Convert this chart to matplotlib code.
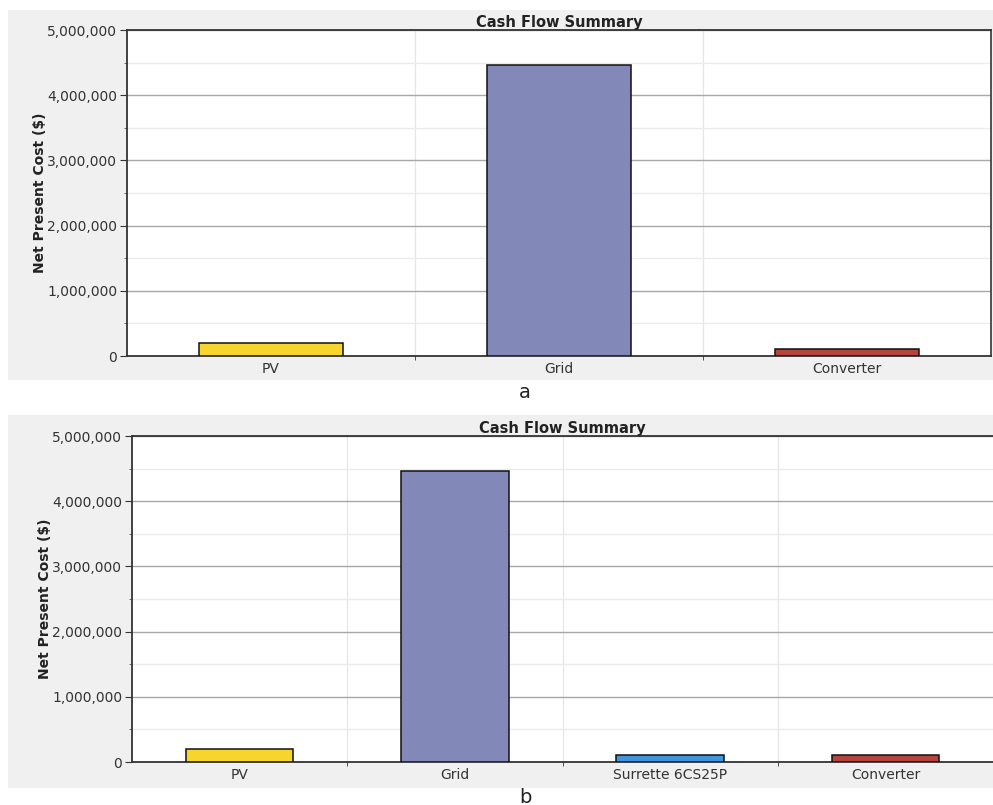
import matplotlib
matplotlib.use("Agg")
import matplotlib.pyplot as plt
import numpy as np
from matplotlib.patches import Rectangle
from matplotlib.ticker import FuncFormatter, MultipleLocator

plt.rcParams['font.family'] = ['DejaVu Sans']

cats_a = ["PV", "Grid", "Converter"]
vals_a = [200000, 4460000, 105000]
cols_a = ["#F6D62C", "#8288B8", "#B5433E"]

cats_b = ["PV", "Grid", "Surrette 6CS25P", "Converter"]
vals_b = [200000, 4460000, 105000, 105000]
cols_b = ["#F6D62C", "#8288B8", "#3F96DE", "#B5433E"]

title = "Cash Flow Summary"
ylabel = "Net Present Cost ($)"

W, H = 993, 805
fig = plt.figure(figsize=(W / 100, H / 100), dpi=100)
fig.patch.set_facecolor("white")


def px_rect(x0, y0, x1, y1):
    return [x0 / W, (H - y1) / H, (x1 - x0) / W, (y1 - y0) / H]


# gray panel backgrounds
for (x0, y0, x1, y1) in [(8, 10, 993, 380), (8, 415, 993, 788)]:
    l, b, w, h = px_rect(x0, y0, x1, y1)
    fig.patches.append(Rectangle((l, b), w, h, transform=fig.transFigure,
                                 facecolor="#F0F0F0", edgecolor="none", zorder=-5))


def draw(ax, cats, vals, cols, right_spine=True):
    n = len(cats)
    x = np.arange(n)
    ax.set_facecolor("white")
    ax.bar(x, vals, width=0.5, color=cols, edgecolor="#111111", linewidth=1.1, zorder=3)
    ax.set_xlim(-0.5, n - 0.5)
    ax.set_ylim(0, 5000000)
    ax.yaxis.set_major_locator(MultipleLocator(1000000))
    ax.yaxis.set_minor_locator(MultipleLocator(500000))
    ax.yaxis.set_major_formatter(FuncFormatter(lambda v, p: f"{int(v):,}"))
    ax.set_xticks(x)
    ax.set_xticklabels(cats)
    ax.set_xticks(np.arange(n - 1) + 0.5, minor=True)
    ax.tick_params(axis="x", which="major", length=0, pad=4, labelsize=10, labelcolor="#333333")
    ax.tick_params(axis="x", which="minor", length=3, direction="out", color="#333333")
    ax.tick_params(axis="y", which="major", length=5, color="#333333", labelsize=10, labelcolor="#333333", pad=2)
    ax.tick_params(axis="y", which="minor", length=2, color="#555555")
    ax.grid(axis="y", which="major", color="#A8A8A8", linewidth=1.0, zorder=1)
    ax.grid(axis="y", which="minor", color="#EBEBEB", linewidth=1.0, zorder=1)
    ax.grid(axis="x", which="minor", color="#E6E6E6", linewidth=0.9, zorder=1)
    for s in ["left", "bottom", "top"]:
        ax.spines[s].set_color("#333333")
        ax.spines[s].set_linewidth(1.3)
    if right_spine:
        ax.spines["right"].set_color("#444444")
        ax.spines["right"].set_linewidth(1.3)
    else:
        ax.spines["right"].set_visible(False)
    ax.set_title(title, fontsize=10.5, fontweight="bold", color="#222222", pad=2)
    ax.set_ylabel(ylabel, fontsize=10, fontweight="bold", color="#222222", labelpad=0)


ax1 = fig.add_axes(px_rect(127, 30, 991, 356))
draw(ax1, cats_a, vals_a, cols_a, right_spine=True)

ax2 = fig.add_axes(px_rect(132, 436, 993, 762))
draw(ax2, cats_b, vals_b, cols_b, right_spine=False)

fig.text(525 / W, 1 - 392 / H, "a", fontsize=14, ha="center", va="center", color="#222222")
fig.text(525 / W, 1 - 797 / H, "b", fontsize=14, ha="center", va="center", color="#222222")

fig.savefig("out.png", dpi=100)
